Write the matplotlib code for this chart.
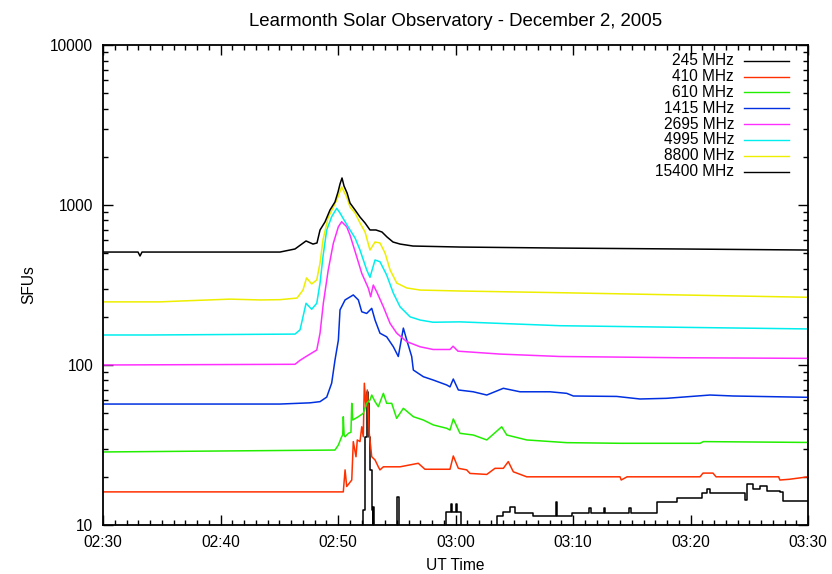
import matplotlib.pyplot as plt
from matplotlib.ticker import MultipleLocator, LogLocator, NullFormatter, FixedLocator, FixedFormatter

plt.rcParams['font.family'] = ['Liberation Sans', 'DejaVu Sans']
plt.rcParams['font.size'] = 11.2

# time in minutes after 02:30 UT, flux in SFU
t_245 = [0, 22.15, 22.3, 22.44, 22.52, 22.66, 22.72, 22.87, 22.95, 23.0, 23.09, 23.15, 25.05, 25.15,
         29.2, 29.6, 29.7, 30.0, 30.1, 30.5, 33.5, 34.07, 34.64, 35.06, 36.62, 38.55, 38.65, 38.89,
         39.89, 41.4, 41.5, 42.6, 42.7, 44.8, 44.9, 47.12, 48.82, 50.95, 51.37, 51.66, 54.64,
         54.83, 55.34, 55.91, 56.48, 57.62, 57.9, 60]
f_245 = [9, 12.4, 35.6, 68, 57.6, 35.6, 22.1, 12.4, 9, 13, 9, 9, 15, 9,
         12.1, 13.5, 12.1, 13.5, 12.1, 9, 11.3, 12.1, 13, 11.8, 11.3, 14, 11.3, 11.3,
         11.9, 12.8, 11.9, 12.8, 11.9, 12.8, 11.9, 14, 14.8, 15.9, 16.9, 15.9, 14.3,
         18, 16.9, 17.4, 16.3, 16.1, 14.1, 14.1]

t_410 = [0, 20.45, 20.6, 20.74, 21.17, 21.3, 21.53, 21.64, 21.87, 22.02, 22.15, 22.24, 22.38, 22.49,
         22.66, 22.87, 23.15, 23.43, 23.57, 23.86, 25.28, 26.83, 27.4, 29.53, 29.81, 30.24, 30.95,
         31.23, 32.66, 33.36, 34.07, 34.49, 34.92, 36.06, 44.0, 44.1, 44.6, 50.81, 51.06, 51.91,
         52.17, 57.5, 57.6, 58.4, 60]
f_410 = [16.1, 16.1, 22.1, 17.4, 19.1, 33.2, 26.7, 34, 33.2, 41.1, 35.6, 76.9, 54.9, 69.8,
         37.4, 26.7, 25.5, 23.1, 22.1, 23.1, 23.1, 24.3, 22.3, 22.3, 27, 22.6, 22.1,
         21, 20.7, 22.6, 22.6, 24.9, 21.5, 20, 20, 19.1, 20, 20, 21.1, 21.1,
         20, 20, 19.1, 19.3, 20]

t_610 = [0, 19.74, 20.03, 20.31, 20.4, 20.45, 20.52, 20.6, 20.88, 21.1, 21.17, 21.25, 21.73, 22.15,
         22.44, 22.72, 22.87, 23.15, 23.43, 23.86, 24.14, 24.57, 24.99, 25.56, 26.41, 27.26, 28.11,
         29.25, 29.53, 29.81, 30.38, 31.51, 32.66, 33.93, 34.36, 36.06, 39.46, 44.0, 50.81, 51.09, 60]
f_610 = [28.6, 29.4, 31.6, 35.6, 36.5, 47.5, 36.5, 35.6, 37.4, 38, 57.6, 45.3, 47.5, 49.9,
         57.6, 60.4, 64.9, 59, 54.9, 66.5, 57.6, 57.6, 46.4, 53.6, 47.5, 45.3, 42.2,
         40.2, 39.2, 46, 37.4, 36.5, 34, 41.1, 36.5, 34, 32.7, 32.4, 32.4, 33.2, 32.8]

t_1415 = [0, 15.06, 17.62, 18.47, 19.04, 19.46, 19.74, 20.03, 20.17, 20.6, 21.3, 21.73, 22.02, 22.44,
          22.87, 23.15, 23.57, 24.14, 24.71, 25.13, 25.56, 25.85, 26.27, 26.41, 27.26, 28.11, 29.25,
          29.53, 29.81, 30.24, 31.51, 32.66, 34.07, 35.49, 38.04, 39.46, 40.03, 43.72, 45.7, 47.97,
          51.66, 53.64, 60]
f_1415 = [57, 57, 58, 59, 63, 77, 107, 143, 221, 255, 274, 255, 215, 210,
          226, 191, 158, 150, 130, 113, 170, 143, 113, 93, 84.5, 80.5, 75,
          73, 81.7, 69.8, 68, 64.9, 71.5, 68, 68, 66.5, 64, 63.6, 61.3, 61.9,
          64.9, 64, 62.8]

t_2695 = [0, 16.34, 16.77, 17.45, 18.19, 18.47, 18.75, 19.17, 19.6, 20.03, 20.31, 20.74, 21.02, 21.59,
          22.02, 22.58, 22.78, 23.0, 23.29, 23.86, 24.43, 25.0, 25.85, 26.98, 28.09, 29.53, 29.79,
          30.21, 33.79, 38.89, 49.1, 60]
f_2695 = [100, 101, 107, 115, 124, 158, 243, 393, 576, 731, 786, 731, 649, 475,
          374, 302, 267, 316, 287, 231, 182, 158, 140, 130, 125, 125, 131,
          122, 117, 113, 111, 110]

t_4995 = [0, 4.0, 16.34, 16.77, 17.28, 17.76, 18.19, 18.47, 18.72, 19.04, 19.46, 19.89, 20.17, 20.6,
          21.02, 21.45, 21.87, 22.44, 22.72, 23.15, 23.57, 24.14, 24.71, 25.28, 26.13, 26.98, 28.09,
          30.38, 38.89, 49.1, 60]
f_4995 = [154, 154, 156, 166, 243, 223, 243, 325, 475, 698, 845, 953, 891, 786,
          698, 622, 523, 393, 353, 453, 442, 365, 281, 231, 200, 191, 185,
          186, 176, 172, 168]

t_8800 = [0, 4.85, 6.55, 10.81, 13.36, 15.06, 16.51, 17.02, 17.32, 17.76, 18.19, 18.47, 18.72, 19.15,
          19.57, 20.0, 20.31, 20.74, 21.02, 21.45, 21.87, 22.3, 22.72, 23.15, 23.57, 24.0, 24.43,
          25.0, 25.85, 26.98, 30.38, 38.89, 49.1, 60]
f_8800 = [248, 248, 251, 258, 255, 256, 262, 294, 350, 321, 340, 434, 604, 830,
          958, 1122, 1296, 1122, 972, 891, 772, 678, 523, 587, 579, 501, 393,
          325, 303, 294, 290, 283, 274, 265]

t_15400 = [0, 2.98, 3.15, 3.32, 15.06, 16.34, 17.28, 17.87, 18.21, 18.47, 18.89, 19.32, 19.74, 20.0,
           20.17, 20.34, 20.51, 20.77, 21.02, 21.45, 21.87, 22.3, 22.72, 23.23, 23.74, 24.17, 24.68,
           25.28, 26.38, 30.38, 38.89, 49.1, 60]
f_15400 = [508, 508, 480, 508, 508, 531, 596, 570, 579, 698, 783, 931, 1044, 1205,
           1353, 1475, 1315, 1189, 1029, 931, 841, 772, 698, 698, 678, 631, 587,
           570, 554, 546, 538, 531, 523]

tick_pos = [0, 10, 20, 30, 40, 50, 60]
tick_labels = ["02:30", "02:40", "02:50", "03:00", "03:10", "03:20", "03:30"]

series = [
    ("245 MHz", t_245, f_245, "black", "steps-post"),
    ("410 MHz", t_410, f_410, "#ff3000", "default"),
    ("610 MHz", t_610, f_610, "#22ee00", "default"),
    ("1415 MHz", t_1415, f_1415, "#0030e0", "default"),
    ("2695 MHz", t_2695, f_2695, "#ff30ff", "default"),
    ("4995 MHz", t_4995, f_4995, "#00eeee", "default"),
    ("8800 MHz", t_8800, f_8800, "#eeee00", "default"),
    ("15400 MHz", t_15400, f_15400, "black", "default"),
]

fig = plt.figure(figsize=(8.32, 5.74), dpi=100)
ax = fig.add_axes([0.1238, 0.0854, 0.8474, 0.8362])

for label, t, f, color, ds in series:
    ax.plot(t, f, color=color, lw=1.1, drawstyle=ds)

ax.set_yscale("log")
ax.set_ylim(10, 10000)
ax.set_xlim(0, 60)

ax.xaxis.set_major_locator(FixedLocator(tick_pos))
ax.xaxis.set_major_formatter(FixedFormatter(tick_labels))
ax.xaxis.set_minor_locator(MultipleLocator(1))
ax.yaxis.set_major_locator(FixedLocator([10, 100, 1000, 10000]))
ax.yaxis.set_major_formatter(FixedFormatter(["10", "100", "1000", "10000"]))
ax.yaxis.set_minor_locator(LogLocator(base=10, subs=range(2, 10)))
ax.yaxis.set_minor_formatter(NullFormatter())

ax.tick_params(which="both", direction="in", top=True, right=True, width=1, pad=7)
ax.tick_params(which="major", length=7)
ax.tick_params(which="minor", length=3.5)
for s in ax.spines.values():
    s.set_linewidth(1.3)

# legend: right-aligned text with line sample after it
for i, (label, t, f, color, ds) in enumerate(series):
    y = 1 - (15.7 + 15.86 * i) / 480
    ax.text(0.895, y, label, transform=ax.transAxes, ha="right", va="center")
    ax.plot([0.909, 0.973], [y, y], transform=ax.transAxes, color=color, lw=1.0)

ax.set_title("Learmonth Solar Observatory - December 2, 2005", pad=14)
ax.set_xlabel("UT Time", labelpad=6)
ax.set_ylabel("SFUs", labelpad=10)

fig.savefig("out.png", dpi=100)
